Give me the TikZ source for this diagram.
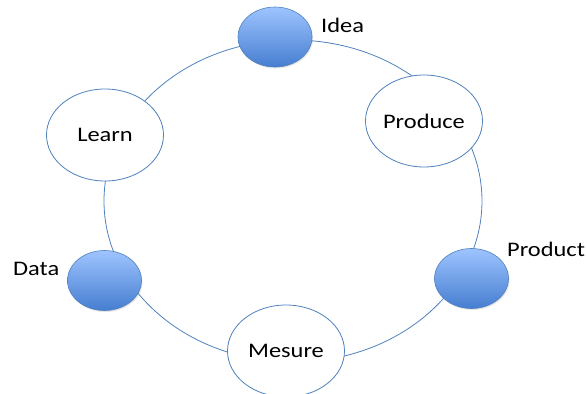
\documentclass[tikz,border=0pt]{standalone}
\usepackage{fontspec}
\setmainfont{Carlito}[FakeStretch=1.18]
\usetikzlibrary{shapes.geometric,shadows}
\definecolor{ringblue}{RGB}{79,129,189}
\definecolor{dottop}{RGB}{158,196,255}
\definecolor{dotbottom}{RGB}{70,126,208}

\begin{document}
\begin{tikzpicture}
      [x = 1pt, y = -1pt,
      ring/.style= {
         draw = ringblue,
         ellipse,
         line width = 0.8pt,
         minimum width = 378pt,
         minimum height = 322pt
      },
      bubble/.style= {
         draw = ringblue,
         fill = white,
         ellipse,
         inner sep = 0pt,
         line width = 0.8pt,
         minimum width = 117pt,
         minimum height = 92pt
      },
      dot/.style= {
         draw = ringblue,
         ellipse,
         top color = dottop,
         bottom color = dotbottom,
         drop shadow = {opacity = 0.2, shadow xshift = 1pt, shadow yshift = -1.5pt},
         inner sep = 0pt,
         line width = 0.6pt,
         minimum width = 74pt,
         minimum height = 60pt
      },
      tag/.style= {
         anchor = base west,
         inner sep = 0pt
      }]

      \useasboundingbox (0, 0) rectangle (587, 394);
      \fontsize{20.7}{24}\selectfont

      \node[ring] (loop) at (293, 201) {};

      \node[dot] (idea) at (275, 37) {};
      \node[tag] (idea label) at (321, 32) {Idea};

      \node[bubble] (produce) at (424, 121) {Produce};

      \node[dot] (product) at (471.5, 278.5) {};
      \node[tag] (product label) at (507, 256) {Product};

      \node[bubble] (mesure) at (286, 351) {Mesure};

      \node[dot] (data) at (104.5, 280.5) {};
      \node[tag] (data label) at (13, 275) {Data};

      \node[bubble] (learn) at (105, 135) {Learn};

   \end{tikzpicture}
\end{document}
